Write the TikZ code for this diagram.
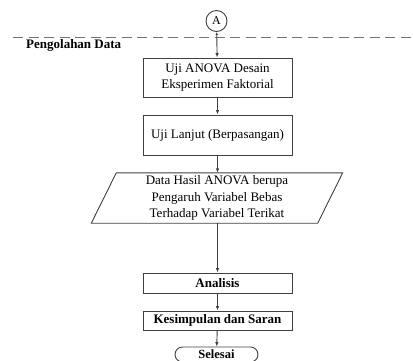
\documentclass[tikz,border=0pt]{standalone}
\usepackage{fontspec}
\setmainfont{Liberation Serif}
\usetikzlibrary{arrows.meta}
\tikzset{
  ln/.style={draw=black!75, line width=0.9pt},
  arr/.style={ln, -{Latex[length=4.5pt,width=3.5pt]}},
  procbox/.style={ln, minimum width=149pt, inner sep=0pt, align=center,
    font=\fontsize{13}{16.5}\selectfont},
  boldbox/.style={procbox, font=\fontsize{13}{16.5}\selectfont\bfseries},
}
\begin{document}
\begin{tikzpicture}[x=1pt,y=-1pt]
\useasboundingbox (0,0) rectangle (413,360);
% dashed separator
\coordinate (dl) at (13,37);
\coordinate (dr) at (413,37);
\draw[draw=black!55, line width=0.9pt, dash pattern=on 10pt off 5.5pt] (dl) -- (dr);
\node[anchor=west, font=\fontsize{13}{15}\selectfont\bfseries, inner sep=0pt] (lbl) at (26,45) {Pengolahan Data};
% connector A
\node[ln, circle, minimum size=21pt, inner sep=0pt, font=\fontsize{12}{14}\selectfont] (A) at (216.5,21) {A};
\node[procbox, minimum height=39pt] (b1) at (217.5,77.5) {Uji ANOVA Desain\\Eksperimen Faktorial};
\node[procbox, minimum height=40pt] (b2) at (217.5,135) {Uji Lanjut (Berpasangan)};
\node[inner sep=0pt, minimum width=226pt, minimum height=50pt, align=center,
  font=\fontsize{13}{16.7}\selectfont] (p) at (217,198)
  {Data Hasil ANOVA berupa\\Pengaruh Variabel Bebas\\Terhadap Variabel Terikat};
\draw[ln] ([xshift=12.5pt]p.north west) -- ([xshift=12.5pt]p.north east)
  -- ([xshift=-12.5pt]p.south east) -- ([xshift=-12.5pt]p.south west) -- cycle;
\node[boldbox, minimum height=20pt] (an) at (217.5,283) {Analisis};
\node[boldbox, minimum height=19pt] (ks) at (217.5,320.5) {Kesimpulan dan Saran};
\node[ln, rounded corners=7.5pt, minimum width=83pt, minimum height=15pt, inner sep=0pt,
  font=\fontsize{12.5}{14}\selectfont\bfseries] (end) at (216.5,354.5) {Selesai};
% connectors
\draw[ln, {Latex[length=3pt,width=2.5pt]}-{Latex[length=4.5pt,width=3.5pt]}] (A) -- (b1);
\draw[arr] (b1) -- (b2);
\draw[arr] (b2.south) -- (p.north -| b2.south);
\draw[arr] (p.south -| an.north) -- (an.north);
\draw[arr] (an) -- (ks);
\draw[arr] (ks) -- (end);
\end{tikzpicture}
\end{document}
